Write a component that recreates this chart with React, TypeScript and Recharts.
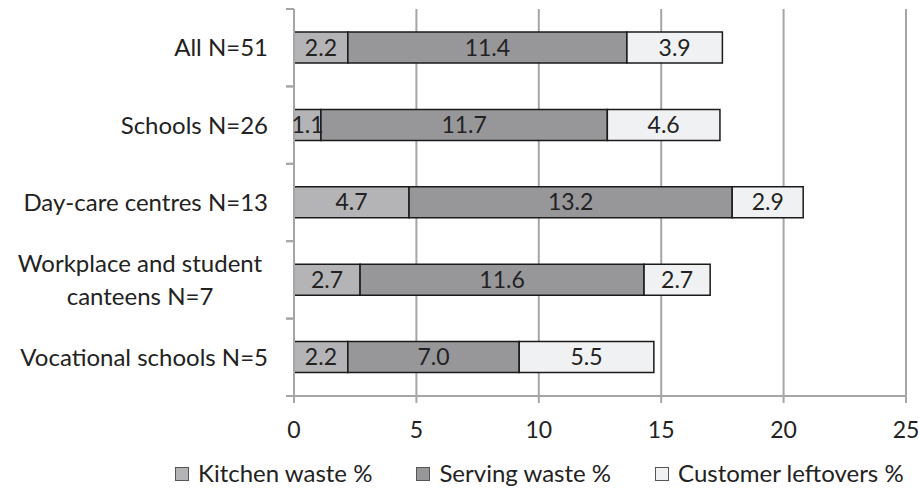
import React from 'react';
import { BarChart, Bar, XAxis, YAxis, CartesianGrid, LabelList, Legend } from 'recharts';

const categories = ['All N=51', 'Schools N=26', 'Day-care centres N=13', 'Workplace and student\ncanteens N=7', 'Vocational schools N=5'];
const kitchenWaste = [2.2, 1.1, 4.7, 2.7, 2.2];
const servingWaste = [11.4, 11.7, 13.2, 11.6, 7.0];
const customerLeftovers = [3.9, 4.6, 2.9, 2.7, 5.5];
const xTicks = [0, 5, 10, 15, 20, 25];
const seriesNames = ['Kitchen waste %', 'Serving waste %', 'Customer leftovers %'];
const seriesColors = ['#b4b4b6', '#97979a', '#f0f1f3'];

const data = categories.map((c, i) => ({
  name: c,
  kitchen: kitchenWaste[i],
  serving: servingWaste[i],
  leftovers: customerLeftovers[i],
}));

const FONT = 'Lato, Carlito, Calibri, sans-serif';
const FS = 24;
const NFS = 23;
const TICK_MARGIN = 26;

const YTick = (props: any) => {
  const { x, y, payload } = props;
  const lines = String(payload.value).split('\n');
  const half = payload.offset || 38.7;
  const ax = x + TICK_MARGIN;
  const lh = 33;
  return (
    <g>
      <line x1={ax - 8} x2={ax} y1={y - half} y2={y - half} stroke="#a6a6a6" strokeWidth={2} />
      <line x1={ax - 8} x2={ax} y1={y + half} y2={y + half} stroke="#a6a6a6" strokeWidth={2} />
      {lines.length === 1 ? (
        <text x={x} y={y} dy="0.35em" textAnchor="end" fontFamily={FONT} fontSize={FS} fill="#222">
          {lines[0]}
        </text>
      ) : (
        lines.map((l, i) => (
          <text key={i} x={x - 128} y={y + (i - (lines.length - 1) / 2) * lh} dy="0.35em" textAnchor="middle" fontFamily={FONT} fontSize={FS} fill="#222">
            {l}
          </text>
        ))
      )}
    </g>
  );
};

const LegendContent = () => (
  <div style={{ height: 44, position: 'relative', fontFamily: FONT, fontSize: FS, color: '#222' }}>
    <div style={{ position: 'absolute', left: 175, top: 12, display: 'flex', alignItems: 'center', whiteSpace: 'nowrap', lineHeight: '29px' }}>
      {seriesNames.map((n, i) => (
        <div key={n} style={{ display: 'flex', alignItems: 'center', marginRight: i < 2 ? 44 : 0 }}>
          <span style={{ display: 'inline-block', width: 12, height: 12, background: seriesColors[i], border: '1px solid #555', marginRight: 9, marginTop: 2 }} />
          <span>{n}</span>
        </div>
      ))}
    </div>
  </div>
);

const fmt = (v: any) => Number(v).toFixed(1);

export default function App() {
  return (
    <div style={{ position: 'absolute', left: 0, top: 0, background: '#fff' }}>
      <BarChart
        width={919}
        height={490}
        data={data}
        layout="vertical"
        margin={{ top: 9, right: 13, bottom: 0, left: 0 }}
        barCategoryGap={0}
      >
        <CartesianGrid horizontal={false} vertical={true} stroke="#a6a6a6" strokeWidth={2} />
        <XAxis
          type="number"
          domain={[0, 25]}
          ticks={xTicks}
          height={50}
          axisLine={{ stroke: '#a6a6a6', strokeWidth: 2 }}
          tickLine={{ stroke: '#a6a6a6', strokeWidth: 2 }}
          tickSize={7}
          tickMargin={19}
          tick={{ fontFamily: FONT, fontSize: NFS, fill: '#222' }}
          interval={0}
        />
        <YAxis
          type="category"
          dataKey="name"
          width={294}
          axisLine={{ stroke: '#a6a6a6', strokeWidth: 2 }}
          tickLine={false}
          tickSize={0}
          tickMargin={TICK_MARGIN}
          tick={<YTick />}
          interval={0}
        />
        <Legend verticalAlign="bottom" content={<LegendContent />} />
        <Bar dataKey="kitchen" stackId="a" fill={seriesColors[0]} stroke="#1a1a1a" strokeWidth={1.5} barSize={31} isAnimationActive={false}>
          <LabelList dataKey="kitchen" position="center" formatter={fmt} style={{ fontFamily: FONT, fontSize: NFS, fill: '#222' }} />
        </Bar>
        <Bar dataKey="serving" stackId="a" fill={seriesColors[1]} stroke="#1a1a1a" strokeWidth={1.5} barSize={31} isAnimationActive={false}>
          <LabelList dataKey="serving" position="center" formatter={fmt} style={{ fontFamily: FONT, fontSize: NFS, fill: '#222' }} />
        </Bar>
        <Bar dataKey="leftovers" stackId="a" fill={seriesColors[2]} stroke="#1a1a1a" strokeWidth={1.5} barSize={31} isAnimationActive={false}>
          <LabelList dataKey="leftovers" position="center" formatter={fmt} style={{ fontFamily: FONT, fontSize: NFS, fill: '#222' }} />
        </Bar>
      </BarChart>
    </div>
  );
}
